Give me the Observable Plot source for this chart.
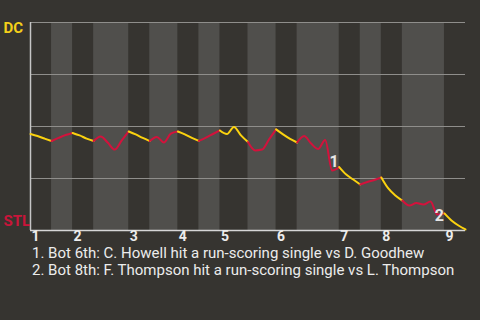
<!DOCTYPE html>
<html><head><meta charset="utf-8">
<script src="https://cdn.jsdelivr.net/npm/d3@7"></script>
<script src="https://cdn.jsdelivr.net/npm/@observablehq/plot@0.6"></script>
<style>
html,body{margin:0;padding:0;background:#363430;width:480px;height:320px;overflow:hidden;font-family:Roboto,sans-serif}
#chart svg{display:block;background:#363430}
.notes{padding-left:32px;color:#ececec;font-size:15px;line-height:17px;white-space:nowrap}
</style></head><body>
<div id="chart"></div>
<div class="notes" id="notes"></div>
<script>
// Teams: away (top of chart) and home (bottom)
const teams = ["DC", "STL"];
// Event index at which each half-inning starts (plus final end)
const halfBoundaries = [0,3,6,9,14,17,21,24,27,31,35,38,44,47,50,53,59,62];
// Inning numbers (label at start of each top half)
const innings = [1,2,3,4,5,6,7,8,9];
// DC win probability after each event
const dcWinProb = [
  0.464,0.454,0.442,0.430,0.445,0.459,0.469,0.457,0.442,0.430,
  0.452,0.423,0.389,0.433,0.476,0.462,0.445,0.430,0.450,0.423,
  0.466,0.476,0.462,0.445,0.431,0.447,0.464,0.481,0.464,0.498,
  0.457,0.425,0.385,0.389,0.438,0.486,0.462,0.440,0.423,0.454,
  0.418,0.392,0.435,0.288,0.305,0.269,0.245,0.221,0.233,0.243,
  0.255,0.202,0.168,0.144,0.120,0.132,0.125,0.139,0.077,0.082,
  0.048,0.024,0.005
];
// Key events
const noteEvents = [43, 58];
const noteLabels = ["1", "2"];
const notes = [
  "1. Bot 6th: C. Howell hit a run-scoring single vs D. Goodhew",
  "2. Bot 8th: F. Thompson hit a run-scoring single vs L. Thompson"
];

const YELLOW = "#fbd20f", RED = "#d3123c";

const points = [];
const bands = [];
for (let h = 0; h < halfBoundaries.length - 1; h++) {
  const batting = h % 2 === 0 ? teams[0] : teams[1];
  for (let e = halfBoundaries[h]; e <= halfBoundaries[h + 1]; e++) {
    points.push({x: e, y: dcWinProb[e], half: h, batting});
  }
  if (h % 2 === 1) bands.push({x1: halfBoundaries[h], x2: halfBoundaries[h + 1]});
}
const inningStarts = innings.map((d, i) => halfBoundaries[2 * i]);
const annos = noteEvents.map((e, i) => ({x: e, y: dcWinProb[e], label: noteLabels[i]}));
const annoDy = [-9, 1];

const chart = Plot.plot({
  width: 480, height: 245,
  marginLeft: 30, marginRight: 15, marginTop: 22, marginBottom: 15,
  style: {background: "#363430", color: "#ececec", fontFamily: "Roboto, sans-serif"},
  x: {domain: [0, halfBoundaries[halfBoundaries.length - 1]]},
  y: {domain: [0, 1], axis: null},
  color: {domain: teams, range: [YELLOW, RED]},
  marks: [
    Plot.rect(bands, {x1: "x1", x2: "x2", fill: "#504f4c"}),
    Plot.ruleY([0.25, 0.5, 0.75, 1], {stroke: "#8f8e8b", strokeWidth: 1.2}),
    Plot.ruleY([0], {stroke: "#d6d6d6", strokeWidth: 1.5}),
    Plot.ruleX([0], {stroke: "#c6c6c6", strokeWidth: 1.5}),
    Plot.line(points, {x: "x", y: "y", z: "half", stroke: "batting", strokeWidth: 2, curve: "monotone-x"}),
    ...annos.map((a, i) => Plot.text([a], {x: "x", y: "y", text: "label", dx: 2, dy: annoDy[i], fill: "#e6e6e6", fontWeight: "bold", fontSize: 16, lineAnchor: "middle"})),
    Plot.text([teams[0]], {frameAnchor: "top-left", dx: -27, textAnchor: "start", lineAnchor: "top", fill: "#f4d01a", fontWeight: "bold", fontSize: 15}),
    Plot.text([teams[1]], {frameAnchor: "bottom-left", dx: -27, dy: -5, textAnchor: "start", lineAnchor: "bottom", fill: "#c9153a", fontWeight: "bold", fontSize: 15}),
    Plot.axisX(inningStarts, {tickFormat: d => innings[inningStarts.indexOf(d)], tickSize: 0, tickPadding: 1, textAnchor: "start", dx: 1, fontSize: 14, fontWeight: "bold", label: null})
  ]
});
document.getElementById("chart").appendChild(chart);
const nd = document.getElementById("notes");
notes.forEach(t => { const div = document.createElement("div"); div.textContent = t; nd.appendChild(div); });
</script>
</body></html>
